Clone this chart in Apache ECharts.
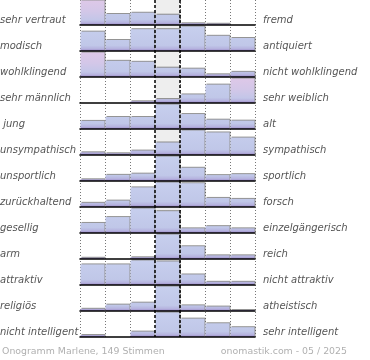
<!DOCTYPE html>
<html><head><meta charset="utf-8">
<script src="https://cdn.jsdelivr.net/npm/echarts@6/dist/echarts.min.js"></script>
<style>html,body{margin:0;padding:0;background:#fff}#c{width:370px;height:360px}</style>
</head><body><div id="c"></div>
<script>
// Left / right pole labels (one row per item)
const leftLabels = ["sehr vertraut","modisch","wohlklingend","sehr männlich"," jung","unsympathisch","unsportlich","zurückhaltend","gesellig","arm","attraktiv","religiös","nicht intelligent"];
const rightLabels = ["fremd","antiquiert","nicht wohlklingend","sehr weiblich","alt","sympathisch","sportlich","forsch","einzelgängerisch","reich","nicht attraktiv","atheistisch","sehr intelligent"];
const scaleSteps = ["1","2","3","4","5","6","7"];
// Bar heights per row, in percent of the row's largest bar
const rowSehrVertraut = [100,45,50,42,7,5,0];
const rowModisch = [79,45,89,89,100,62,53];
const rowWohlklingend = [100,66,62,38,34,11,21];
const rowSehrMaennlich = [0,0,7,16,35,75,100];
const rowJung = [33,49,49,100,61,38,34];
const rowUnsympathisch = [11,7,18,51,100,92,71];
const rowUnsportlich = [7,25,30,100,54,24,28];
const rowZurueckhaltend = [17,26,80,100,97,37,33];
const rowGesellig = [41,65,100,89,19,28,19];
const rowArm = [5,0,7,100,52,15,15];
const rowAttraktiv = [84,84,100,96,43,13,13];
const rowReligioes = [9,26,34,100,23,18,4];
const rowNichtIntelligent = [8,0,22,100,75,56,40];
const rows = [rowSehrVertraut,rowModisch,rowWohlklingend,rowSehrMaennlich,rowJung,rowUnsympathisch,rowUnsportlich,rowZurueckhaltend,rowGesellig,rowArm,rowAttraktiv,rowReligioes,rowNichtIntelligent];
const footerLeft = "Onogramm Marlene, 149 Stimmen";
const footerRight = "onomastik.com - 05 / 2025";

const chart = echarts.init(document.getElementById('c'), null, {renderer:'canvas'});
const L = 80, W = 175, RH = 26, BH = 25;
const grids = [], xAxes = [], yAxes = [], series = [], graphics = [];
const font = 'DejaVu Sans';

function grad(top, pink){
  const stops = pink ? [
    {offset:0,color:'#dec8e8'},{offset:0.45,color:'#d3c7e8'},{offset:0.8,color:'#c3c6e8'},
    {offset:0.9,color:'#b8b4df'},{offset:1,color:'#9c89c9'}] : [
    {offset:0,color:'#c7cfee'},{offset:0.78,color:'#c0c7e8'},
    {offset:0.9,color:'#b6b4df'},{offset:1,color:'#9c89c9'}];
  return new echarts.graphic.LinearGradient(0, top, 0, top + BH, stops, true);
}

rows.forEach((vals, i) => {
  const top = i * RH;
  grids.push({left:L, width:W, top:top, height:BH});
  xAxes.push({type:'category', gridIndex:i, data:scaleSteps, z:4,
    axisLine:{show:true, lineStyle:{color:'#000', width:1.6}}, axisTick:{show:false}, axisLabel:{show:false}, splitLine:{show:false}});
  yAxes.push({type:'value', gridIndex:i, min:0, max:102, show:false, splitLine:{show:false}});
  series.push({type:'bar', xAxisIndex:i, yAxisIndex:i, barCategoryGap:'4%', z:3,
    data: vals.map((v, j) => ({value:v, itemStyle:{color: grad(top, v === 100 && (j === 0 || j === 6))}})),
    itemStyle:{shadowColor:'rgba(60,60,60,0.55)', shadowOffsetX:1, shadowOffsetY:-1, shadowBlur:0},
    silent:true, animation:false});
  graphics.push({type:'text', left:0, top:top + 15, style:{text:leftLabels[i], font:'italic 10px "' + font + '"', fill:'#555'}});
  graphics.push({type:'text', left:263, top:top + 15, style:{text:rightLabels[i], font:'italic 10px "' + font + '"', fill:'#555'}});
});

// background grid: dotted column lines, grey middle column
const bg = rows.length;
grids.push({left:L, width:W, top:0, height:rows.length * RH - 1});
xAxes.push({type:'value', gridIndex:bg, min:0, max:7, interval:1, axisLine:{show:false}, axisTick:{show:false}, axisLabel:{show:false},
  splitLine:{show:true, lineStyle:{color:'#777', type:[1,2], width:1}}});
yAxes.push({type:'value', gridIndex:bg, min:0, max:1, show:false, splitLine:{show:false}});
series.push({type:'line', xAxisIndex:bg, yAxisIndex:bg, data:[], z:1, silent:true, animation:false,
  markArea:{silent:true, itemStyle:{color:'#eeeeee'}, data:[[{xAxis:3},{xAxis:4}]]}});

// middle column grid: dashed black borders on top of the bars
const mid = rows.length + 1;
grids.push({left:L + 3 * W / 7, width:W / 7, top:0, height:rows.length * RH - 1});
xAxes.push({type:'value', gridIndex:mid, min:0, max:1, interval:1, z:10, axisLine:{show:false}, axisTick:{show:false}, axisLabel:{show:false},
  splitLine:{show:true, lineStyle:{color:'#000', type:[3,2], width:1.5}}});
yAxes.push({type:'value', gridIndex:mid, min:0, max:1, show:false, splitLine:{show:false}});

graphics.push({type:'text', left:2, top:347, style:{text:footerLeft, font:'9.4px "' + font + '"', fill:'#b0b0b0'}});
graphics.push({type:'text', right:23, top:347, style:{text:footerRight, font:'9.4px "' + font + '"', fill:'#b0b0b0'}});

chart.setOption({animation:false, grid:grids, xAxis:xAxes, yAxis:yAxes, series:series, graphic:graphics});
</script></body></html>
